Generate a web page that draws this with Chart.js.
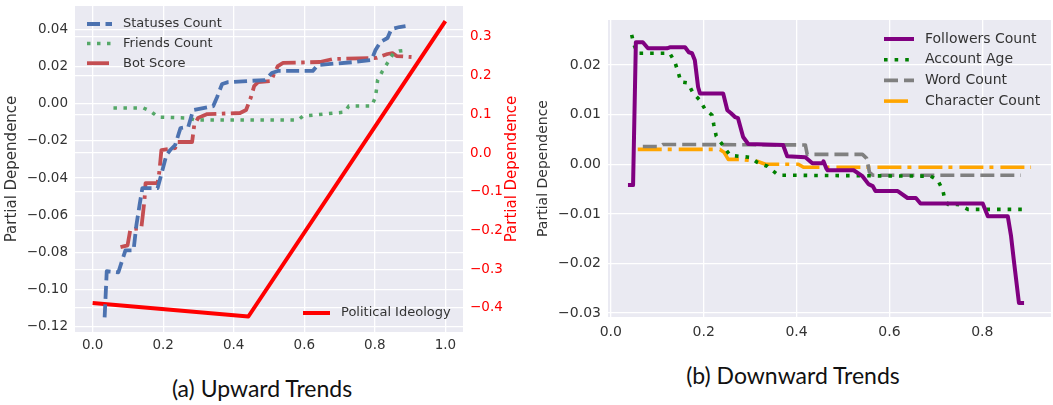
<!DOCTYPE html>
<html>
<head>
<meta charset="utf-8">
<script src="https://cdn.jsdelivr.net/npm/chart.js@4.4.1/dist/chart.umd.min.js"></script>
<style>
  html, body { margin: 0; padding: 0; background: #fff; }
  body { width: 1053px; height: 405px; position: relative; overflow: hidden; }
  canvas { position: absolute; top: 0; }
  #upward { left: 0; }
  #downward { left: 530px; }
  .caption {
    position: absolute; width: 300px; text-align: center; white-space: nowrap;
    font-family: Lato, "Open Sans", sans-serif; font-size: 23px; line-height: 24px; color: #111;
  }
  #capA { left: 112px; top: 376px; }
  #capB { left: 643px; top: 363px; }
</style>
</head>
<body>
<canvas id="upward" width="530" height="360"></canvas>
<canvas id="downward" width="523" height="345"></canvas>
<div class="caption" id="capA">(a) Upward Trends</div>
<div class="caption" id="capB">(b) Downward Trends</div>
<script>
// (a) 上升趋势：[x, 偏依赖]
const statusesCount = [
  [0.034, -0.1148], [0.040, -0.0900], [0.073, -0.0906], [0.093, -0.0788], [0.116, -0.0788],
  [0.124, -0.0653], [0.133, -0.0545], [0.141, -0.0454], [0.184, -0.0454], [0.198, -0.0357],
  [0.209, -0.0276], [0.220, -0.0249], [0.234, -0.0222], [0.249, -0.0131], [0.271, -0.0125],
  [0.285, -0.0034], [0.342, -0.0013], [0.353, 0.0036], [0.367, 0.0106], [0.384, 0.0116],
  [0.489, 0.0127], [0.508, 0.0165], [0.525, 0.0176], [0.624, 0.0176], [0.638, 0.0208],
  [0.743, 0.0224], [0.791, 0.0235], [0.802, 0.0289], [0.816, 0.0332], [0.836, 0.0353],
  [0.847, 0.0401], [0.870, 0.0412], [0.887, 0.0417]
];
const friendsCount = [
  [0.059, -0.0023], [0.144, -0.0023], [0.164, -0.0040], [0.186, -0.0072], [0.271, -0.0077],
  [0.291, -0.0088], [0.582, -0.0088], [0.596, -0.0067], [0.715, -0.0045], [0.726, -0.0013],
  [0.791, -0.0013], [0.802, 0.0036], [0.808, 0.0127], [0.822, 0.0176], [0.836, 0.0219],
  [0.853, 0.0272], [0.870, 0.0283], [0.890, 0.0288]
];
const botScore = [
  [0.079, -0.0771], [0.099, -0.0761], [0.107, -0.0675], [0.138, -0.0669], [0.147, -0.0518],
  [0.150, -0.0427], [0.184, -0.0427], [0.189, -0.0368], [0.195, -0.0249], [0.234, -0.0239],
  [0.240, -0.0206], [0.282, -0.0206], [0.288, -0.0115], [0.299, -0.0077], [0.325, -0.0056],
  [0.418, -0.0050], [0.435, -0.0034], [0.449, 0.0036], [0.458, 0.0095], [0.469, 0.0116],
  [0.506, 0.0122], [0.514, 0.0159], [0.525, 0.0202], [0.540, 0.0219], [0.644, 0.0224],
  [0.681, 0.0240], [0.805, 0.0246], [0.836, 0.0267], [0.850, 0.0272], [0.862, 0.0256],
  [0.904, 0.0251]
];
// 右侧坐标轴
const politicalIdeology = [[0.0, -0.387], [0.4415, -0.422], [1.0, 0.341]];

// (b) 下降趋势
const followersCount = [
  [0.037, -0.0042], [0.048, -0.0042], [0.054, 0.0246], [0.069, 0.0246], [0.080, 0.0234],
  [0.121, 0.0234], [0.127, 0.0236], [0.160, 0.0236], [0.168, 0.0226], [0.175, 0.0224],
  [0.181, 0.0210], [0.188, 0.0156], [0.192, 0.0143], [0.242, 0.0143], [0.251, 0.0109],
  [0.259, 0.0103], [0.268, 0.0095], [0.274, 0.0093], [0.285, 0.0055], [0.296, 0.0041],
  [0.371, 0.0039], [0.380, 0.0016], [0.419, 0.0014], [0.434, 0.0002], [0.456, 0.0002],
  [0.458, 0.0006], [0.464, -0.0008], [0.467, -0.0012], [0.523, -0.0012], [0.542, -0.0024],
  [0.555, -0.0040], [0.564, -0.0044], [0.570, -0.0054], [0.618, -0.0054], [0.639, -0.0068],
  [0.657, -0.0068], [0.667, -0.0079], [0.801, -0.0079], [0.812, -0.0105], [0.855, -0.0105],
  [0.862, -0.0145], [0.868, -0.0194], [0.879, -0.0280], [0.890, -0.0280]
];
const accountAge = [
  [0.045, 0.0261], [0.050, 0.0241], [0.058, 0.0224], [0.127, 0.0224], [0.138, 0.0206],
  [0.145, 0.0186], [0.151, 0.0166], [0.166, 0.0164], [0.177, 0.0144], [0.192, 0.0129],
  [0.203, 0.0111], [0.218, 0.0099], [0.222, 0.0079], [0.227, 0.0057], [0.246, 0.0032],
  [0.257, 0.0018], [0.300, 0.0014], [0.315, 0.0004], [0.337, -0.0004], [0.361, -0.0022],
  [0.689, -0.0024], [0.704, -0.0032], [0.715, -0.0052], [0.719, -0.0070], [0.726, -0.0081],
  [0.747, -0.0081], [0.769, -0.0091], [0.898, -0.0091]
];
const wordCount = [
  [0.069, 0.0036], [0.106, 0.0036], [0.112, 0.0040], [0.419, 0.0039], [0.423, 0.0020],
  [0.542, 0.0020], [0.551, 0.0012], [0.557, -0.0016], [0.564, -0.0022], [0.883, -0.0022]
];
const characterCount = [
  [0.058, 0.0030], [0.235, 0.0030], [0.244, 0.0024], [0.253, 0.0010], [0.279, 0.0010],
  [0.315, 0.0006], [0.333, 0.0000], [0.404, 0.0000], [0.415, -0.0006], [0.905, -0.0006]
];

// 刻度
const upwardXTicks = [0.0, 0.2, 0.4, 0.6, 0.8, 1.0];
const upwardYTicks = [-0.12, -0.10, -0.08, -0.06, -0.04, -0.02, 0.00, 0.02, 0.04];
const ideologyTicks = [-0.4, -0.3, -0.2, -0.1, 0.0, 0.1, 0.2, 0.3];
const downwardXTicks = [0.0, 0.2, 0.4, 0.6, 0.8];
const downwardYTicks = [-0.03, -0.02, -0.01, 0.00, 0.01, 0.02];

Chart.defaults.font.family = '"DejaVu Sans", sans-serif';
Chart.defaults.color = '#333';

const toPoints = arr => arr.map(([x, y]) => ({x, y}));
const fmt = (v, d) => v.toFixed(d).replace('-', '\u2212');

// 灰色绘图区背景
const plotBackground = {
  id: 'plotBackground',
  beforeDraw(chart) {
    const {ctx, chartArea: a} = chart;
    ctx.save();
    ctx.fillStyle = '#EAEAF2';
    ctx.fillRect(a.left, a.top, a.right - a.left, a.bottom - a.top);
    ctx.restore();
  }
};

// 图内图例 (matplotlib 风格，无边框)
function insideLegend(groups) {
  return {
    id: 'insideLegend',
    afterDatasetsDraw(chart) {
      const ctx = chart.ctx;
      groups.forEach(g => {
        g.items.forEach((idx, i) => {
          const ds = chart.data.datasets[idx];
          const y = g.y + i * g.rowGap;
          ctx.save();
          ctx.strokeStyle = ds.borderColor;
          ctx.lineWidth = ds.borderWidth;
          ctx.setLineDash(ds.borderDash || []);
          ctx.beginPath();
          ctx.moveTo(g.x, y);
          ctx.lineTo(g.x + g.len, y);
          ctx.stroke();
          ctx.setLineDash([]);
          ctx.fillStyle = '#333';
          ctx.font = g.font;
          ctx.textBaseline = 'middle';
          ctx.fillText(ds.label, g.x + g.len + g.gap, y);
          ctx.restore();
        });
      });
    }
  };
}

// 右侧轴标题（自下而上）
const rightTitle = {
  id: 'rightTitle',
  afterDraw(chart) {
    const ctx = chart.ctx;
    const a = chart.chartArea;
    ctx.save();
    ctx.translate(512.5, (a.top + a.bottom) / 2);
    ctx.rotate(-Math.PI / 2);
    ctx.fillStyle = '#FF0000';
    ctx.font = '15px "DejaVu Sans"';
    ctx.textAlign = 'center';
    ctx.textBaseline = 'middle';
    ctx.fillText('Partial Dependence', 0, 0);
    ctx.restore();
  }
};

function lineSet(label, data, color, width, dash, axis) {
  return {
    label, data: toPoints(data), borderColor: color, borderWidth: width,
    borderDash: dash, borderCapStyle: 'butt', borderJoinStyle: 'round',
    pointRadius: 0, fill: false, tension: 0, yAxisID: axis || 'y'
  };
}

const gridOpts = {color: '#FFFFFF', lineWidth: 1.3, drawTicks: false};

// 固定坐标轴尺寸，不让标签撑开绘图区
function fixSize(w, h) {
  return s => {
    if (w !== null) s.width = w;
    if (h !== null) s.height = h;
    s.paddingTop = 0; s.paddingBottom = 0;
    s.paddingLeft = 0; s.paddingRight = 0;
  };
}

function axis(min, max, ticks, digits, extra) {
  return Object.assign({
    type: 'linear', min, max,
    grid: gridOpts, border: {display: false},
    afterBuildTicks: s => { s.ticks = ticks.map(v => ({value: v})); },
    ticks: {autoSkip: false, maxRotation: 0, callback: v => fmt(v, digits)}
  }, extra);
}

// 创建图 (a)
function createUpwardChart() {
  const ctx = document.getElementById('upward').getContext('2d');
  new Chart(ctx, {
    type: 'line',
    data: {
      datasets: [
        lineSet('Statuses Count', statusesCount, '#4C72B0', 3.8, [13, 5.5]),
        lineSet('Friends Count', friendsCount, '#55A868', 3.5, [3.5, 6.5]),
        lineSet('Bot Score', botScore, '#C44E52', 3.8, [22, 5.5, 3.5, 5.5]),
        lineSet('Political Ideology', politicalIdeology, '#FF0000', 4, [], 'y2')
      ]
    },
    plugins: [plotBackground, rightTitle, insideLegend([
      {items: [0, 1, 2], x: 87, y: 24, rowGap: 19.6, len: 25, gap: 11, font: '13px "DejaVu Sans"'},
      {items: [3], x: 303, y: 313, rowGap: 0, len: 27, gap: 11, font: '13px "DejaVu Sans"'}
    ])],
    options: {
      responsive: false, animation: false,
      layout: {padding: {top: 6, left: 0, right: 0, bottom: 0}},
      plugins: {legend: {display: false}, tooltip: {enabled: false}},
      scales: {
        x: axis(-0.05, 1.05, upwardXTicks, 1, {
          position: 'bottom',
          afterFit: fixSize(null, 28),
          ticks: {autoSkip: false, maxRotation: 0, padding: 5, font: {size: 13.5},
            callback: v => fmt(v, 1)}
        }),
        y: axis(-0.1227, 0.0525, upwardYTicks, 2, {
          position: 'left',
          afterFit: fixSize(75, null),
          ticks: {autoSkip: false, padding: 7, font: {size: 13.5}, callback: v => fmt(v, 2)},
          title: {display: true, text: 'Partial Dependence', font: {size: 15}, padding: {top: 3.5, bottom: 0}}
        }),
        y2: axis(-0.462, 0.380, ideologyTicks, 1, {
          position: 'right',
          afterFit: fixSize(67, null),
          ticks: {autoSkip: false, padding: 7, color: '#FF0000', font: {size: 13.5}, callback: v => fmt(v, 1)}
        })
      }
    }
  });
}

// 创建图 (b)
function createDownwardChart() {
  const ctx = document.getElementById('downward').getContext('2d');
  new Chart(ctx, {
    type: 'line',
    data: {
      datasets: [
        lineSet('Followers Count', followersCount, '#800080', 4, []),
        lineSet('Account Age', accountAge, '#008000', 3.6, [3.6, 7]),
        lineSet('Word Count', wordCount, '#808080', 3.6, [14, 6]),
        lineSet('Character Count', characterCount, '#FFA500', 3.6, [24, 6, 4, 7])
      ]
    },
    plugins: [plotBackground, insideLegend([
      {items: [0, 1, 2, 3], x: 354, y: 39, rowGap: 20.7, len: 30, gap: 11, font: '14px "DejaVu Sans"'}
    ])],
    options: {
      responsive: false, animation: false,
      layout: {padding: {top: 20, left: 0, right: 2, bottom: 0}},
      plugins: {legend: {display: false}, tooltip: {enabled: false}},
      scales: {
        x: axis(-0.006, 0.948, downwardXTicks, 1, {
          position: 'bottom',
          afterFit: fixSize(null, 28),
          ticks: {autoSkip: false, maxRotation: 0, padding: 7, font: {size: 14},
            callback: v => fmt(v, 1)}
        }),
        y: axis(-0.0308, 0.0291, downwardYTicks, 2, {
          position: 'left',
          afterFit: fixSize(78, null),
          ticks: {autoSkip: false, padding: 7, font: {size: 14}, callback: v => fmt(v, 2)},
          title: {display: true, text: 'Partial Dependence', font: {size: 14}, padding: {top: 4.6, bottom: 0}}
        })
      }
    }
  });
}

createUpwardChart();
createDownwardChart();
</script>
</body>
</html>
